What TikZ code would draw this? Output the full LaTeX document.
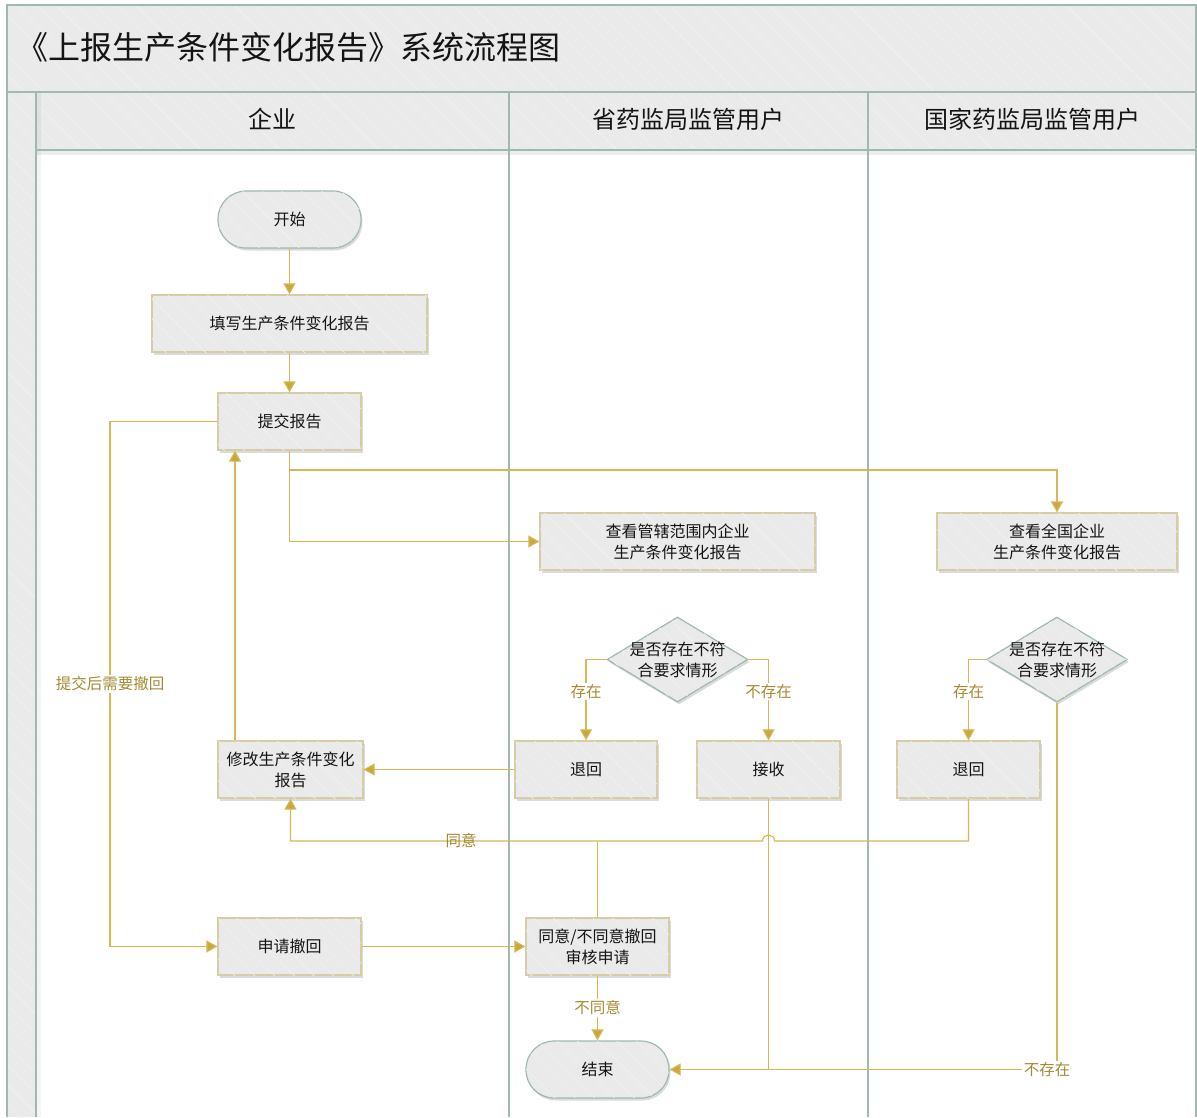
\documentclass[tikz,border=0pt]{standalone}
\usepackage{fontspec}
\setmainfont{Noto Sans CJK SC}
\usetikzlibrary{arrows.meta,shapes.geometric,shadows,patterns.meta,calc}
\definecolor{lanec}{RGB}{160,185,175}
\definecolor{boxb}{RGB}{214,204,166}
\definecolor{boxf}{RGB}{234,234,234}
\definecolor{hatchc}{RGB}{241,241,241}
\definecolor{linec}{RGB}{214,184,86}
\definecolor{tipc}{RGB}{204,168,58}
\definecolor{labc}{RGB}{165,138,52}
\definecolor{txtc}{RGB}{20,20,20}
\tikzset{
  hatch/.style={postaction={pattern={Lines[angle=-45,distance=14pt,line width=0.6pt]},pattern color=hatchc}},
  shad/.style={drop shadow={shadow xshift=1.5pt,shadow yshift=-2.5pt,fill=black,opacity=0.14}},
  proc/.style={rectangle,draw=boxb,fill=boxf,line width=1.2pt,minimum height=57pt,inner sep=2pt,
     align=center,text=txtc,font=\fontsize{16}{21}\selectfont,shad,hatch},
  term/.style={proc,draw=lanec,rounded corners=28pt},
  dec/.style={diamond,draw=lanec,fill=boxf,line width=1.2pt,minimum width=141pt,minimum height=85pt,inner sep=0pt,shad,hatch},
  dectext/.style={align=center,text=txtc,font=\fontsize{16}{21}\selectfont},
  conn/.style={draw=linec,line width=1.1pt},
  arr/.style={conn,-{Triangle[length=11pt,width=12pt,fill=tipc]}},
  lab/.style={text=labc,font=\fontsize{15.5}{18}\selectfont,fill=white,inner sep=1.5pt},
  labnb/.style={text=labc,font=\fontsize{15.5}{18}\selectfont,inner sep=1pt},
  lane/.style={draw=lanec,line width=1.6pt},
  head/.style={text=txtc,font=\fontsize{24}{27}\selectfont}
}
\begin{document}
\begin{tikzpicture}[x=1pt,y=-1pt]
\useasboundingbox (0,0) rectangle (1197,1117);
% background bands
\fill[white] (0,0) rectangle (1197,1117);
\path[fill=boxf,hatch] (7,5) rectangle (1196,92);
\path[fill=boxf,hatch] (36,92) rectangle (1196,150);
\path[fill=boxf,hatch] (7,92) rectangle (36,1117);
\fill[black,opacity=0.07] (36,151) rectangle (1196,155);
\fill[black,opacity=0.04] (37,92) rectangle (41,1117);
% frame and lanes
\draw[lane] (7,1117) -- (7,5) -- (1196,5) -- (1196,1117);
\draw[lane] (7,92) -- (1196,92);
\draw[lane] (36,150) -- (1196,150);
\draw[lane] (36,92) -- (36,1117);
\draw[lane] (509,92) -- (509,1117);
\draw[lane] (868,92) -- (868,1117);
% titles
\node[anchor=west,text=txtc,font=\fontsize{32}{36}\selectfont,inner sep=0pt] (title) at (16,47) {《上报生产条件变化报告》系统流程图};
\node[head] (h1) at (272,119) {企业};
\node[head] (h2) at (688,119) {省药监局监管用户};
\node[head] (h3) at (1032,119) {国家药监局监管用户};
% nodes
\node[term,minimum width=143pt] (start) at (289.5,219.5) {开始};
\node[proc,minimum width=275pt] (fill) at (289.5,323.5) {填写生产条件变化报告};
\node[proc,minimum width=143pt] (submit) at (289.5,421.5) {提交报告};
\node[proc,minimum width=145pt] (modify) at (290.5,769.5) {修改生产条件变化\\报告};
\node[proc,minimum width=143pt] (apply) at (289.5,946.5) {申请撤回};
\node[proc,minimum width=275pt] (pview) at (677.5,541.5) {查看管辖范围内企业\\生产条件变化报告};
\node[dec] (pdec) at (677.5,659.5) {};
\node[dectext] (pdect) at (pdec.center) {是否存在不符\\合要求情形};
\node[proc,minimum width=142pt] (pret) at (586,769.5) {退回};
\node[proc,minimum width=143pt] (recv) at (768.5,769.5) {接收};
\node[proc,minimum width=143pt] (audit) at (597.5,946.5) {同意/不同意撤回\\审核申请};
\node[term,minimum width=143pt] (end) at (597.5,1069.5) {结束};
\node[proc,minimum width=240pt] (nview) at (1057,541.5) {查看全国企业\\生产条件变化报告};
\node[dec] (ndec) at (1057,659.5) {};
\node[dectext] (ndect) at (ndec.center) {是否存在不符\\合要求情形};
\node[proc,minimum width=143pt] (nret) at (968.5,769.5) {退回};
% helper coordinates
\coordinate (j1) at (289.5,470);
\coordinate (xl) at (110,0);
\coordinate (xm) at (235,0);
\coordinate (yg) at (0,841);
% connectors
\draw[arr] (start) -- (fill);
\draw[arr] (fill) -- (submit);
\draw[arr] (submit.south) |- (pview.west);
\draw[arr] (j1) -| (nview.north);
\draw[arr] (submit.west) -- (submit.west -| xl) |- node[lab,pos=0.25]{提交后需要撤回} (apply.west);
\draw[arr] (modify.north -| xm) -- (submit.south -| xm);
\draw[arr] (pret.west) -- (modify.east);
\draw[arr] (pdec.west) -| node[lab,pos=0.7]{存在} (pret.north);
\draw[arr] (pdec.east) -| node[lab,pos=0.7]{不存在} (recv.north);
\draw[arr] (ndec.west) -| node[lab,pos=0.7]{存在} (nret.north);
\draw[arr] (ndec.south) |- node[lab,pos=0.5,xshift=-10pt]{不存在} (end.east);
\draw[conn] (recv.south) -- (recv.south |- end.east);
\draw[arr] (nret.south) -- (nret.south |- yg) -- (774.5,841) .. controls (774.5,833) and (762.5,833) .. (762.5,841) -- (modify.south |- yg) -- (modify.south);
\node[labnb] (agree) at (461,841) {同意};
\draw[conn] (audit.north) -- (audit.north |- yg);
\draw[arr] (audit.south) -- node[lab]{不同意} (end.north);
\draw[arr] (apply.east) -- (audit.west);
\end{tikzpicture}
\end{document}
